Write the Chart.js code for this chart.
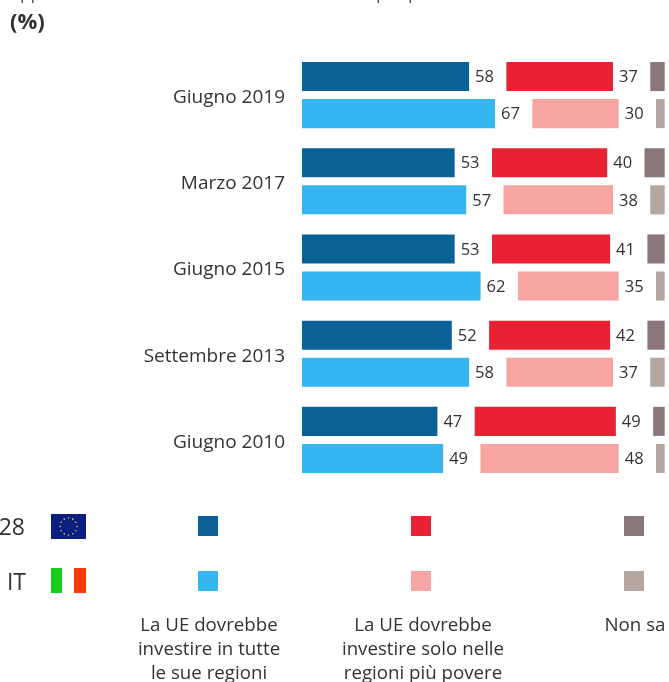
<!DOCTYPE html>
<html><head><meta charset="utf-8">
<style>html,body{margin:0;padding:0;background:#fff;overflow:hidden}canvas{display:block}</style>
<script src="https://cdn.jsdelivr.net/npm/chart.js@4"></script></head>
<body><div style="width:669px;height:682px;position:relative"><canvas id="c" width="669" height="682"></canvas></div>
<script>
const categories=['Giugno 2019','Marzo 2017','Giugno 2015','Settembre 2013','Giugno 2010'];
const euAll=[58,53,53,52,47];
const euPoor=[37,40,41,42,49];
const euDontKnow=[5,7,6,6,4];
const itAll=[67,57,62,58,49];
const itPoor=[30,38,35,37,48];
const itDontKnow=[3,5,3,5,3];
const colors={euAll:'#0a6195',euPoor:'#e82233',euDk:'#897779',itAll:'#36b6f0',itPoor:'#f6a5a3',itDk:'#b5a79f'};
const legendLabels=[['La UE dovrebbe','investire in tutte','le sue regioni'],['La UE dovrebbe','investire solo nelle','regioni più povere'],['Non sa']];
const rowLabels=['UE28','IT'];
const unitTitle='(%)';
const GAP=12.95, FONT="'Open Sans', sans-serif", INK='#333333';
function ranges(a,b,c){const r1=[],r2=[],r3=[];a.forEach((v,i)=>{r1.push([0,v]);const s=v+GAP;r2.push([s,s+b[i]]);const t=s+b[i]+GAP;r3.push([t,t+c[i]]);});return[r1,r2,r3];}
const [e1,e2,e3]=ranges(euAll,euPoor,euDontKnow);
const [i1,i2,i3]=ranges(itAll,itPoor,itDontKnow);
const ds=(label,data,color,stack,vals)=>({label,data,backgroundColor:color,stack,vals,borderWidth:0});
const labelPlugin={id:'labels',afterDatasetsDraw(ch){const x=ch.ctx;x.save();x.font='16.5px '+FONT;x.fillStyle=INK;x.textBaseline='middle';x.textAlign='left';
 ch.data.datasets.forEach((d,di)=>{ch.getDatasetMeta(di).data.forEach((b,i)=>{x.fillText(String(d.vals[i]),b.x+6,b.y+1);});});x.restore();}};
const decor={id:'decor',afterDraw(ch){const x=ch.ctx;x.save();
 // descenders of the title line that the reference crops away
 x.fillStyle='#555555';x.textBaseline='alphabetic';x.textAlign='left';x.font='18px '+FONT;
 [20,30.5,376,408].forEach(px=>x.fillText('p',px,-1.2));
 x.fillStyle=INK;x.textBaseline='middle';x.font='bold 22px '+FONT;x.textAlign='left';x.fillText(unitTitle,10,23);
 x.font='23px '+FONT;x.textAlign='right';x.fillText(rowLabels[0],25,528);x.fillText(rowLabels[1],26,583);
 // EU flag
 x.fillStyle='#0b1f80';x.fillRect(51,514,35,25);x.fillStyle='#e8d020';
 for(let k=0;k<12;k++){const a=k*Math.PI/6;x.beginPath();x.arc(68.5+8.5*Math.cos(a),526.5+8.5*Math.sin(a),0.8,0,7);x.fill();}
 // IT flag
 x.fillStyle='#12cf1a';x.fillRect(51,568,11,25);x.fillStyle='#ffffff';x.fillRect(62,568,12,25);x.fillStyle='#ff3b0a';x.fillRect(74,568,12,25);
 const sw=[[198,colors.euAll,colors.itAll],[411,colors.euPoor,colors.itPoor],[624,colors.euDk,colors.itDk]];
 sw.forEach(s=>{x.fillStyle=s[1];x.fillRect(s[0],516,20,20);x.fillStyle=s[2];x.fillRect(s[0],571,20,20);});
 x.fillStyle=INK;x.font='18.7px '+FONT;x.textAlign='center';
 const cx=[209,423,635];
 legendLabels.forEach((ls,j)=>ls.forEach((t,k)=>x.fillText(t,cx[j],626+k*24)));
 x.restore();}};
new Chart(document.getElementById('c'),{type:'bar',
 data:{labels:categories,datasets:[
  ds('UE28 investire in tutte',e1,colors.euAll,'UE28',euAll),
  ds('UE28 solo più povere',e2,colors.euPoor,'UE28',euPoor),
  ds('UE28 non sa',e3,colors.euDk,'UE28',euDontKnow),
  ds('IT investire in tutte',i1,colors.itAll,'IT',itAll),
  ds('IT solo più povere',i2,colors.itPoor,'IT',itPoor),
  ds('IT non sa',i3,colors.itDk,'IT',itDontKnow)]},
 options:{indexAxis:'y',responsive:false,animation:false,categoryPercentage:0.86,barPercentage:0.784,
  layout:{padding:{top:52,bottom:199,left:0,right:0}},
  plugins:{legend:{display:false},tooltip:{enabled:false}},
  scales:{x:{display:false,stacked:false,min:0,max:127.4},
   y:{afterFit(s){s.width=302;},grid:{display:false},border:{display:false},
    ticks:{color:INK,font:{family:FONT,size:19},padding:9,labelOffset:2.5,autoSkip:false}}}},
 plugins:[labelPlugin,decor]});
</script></body></html>
